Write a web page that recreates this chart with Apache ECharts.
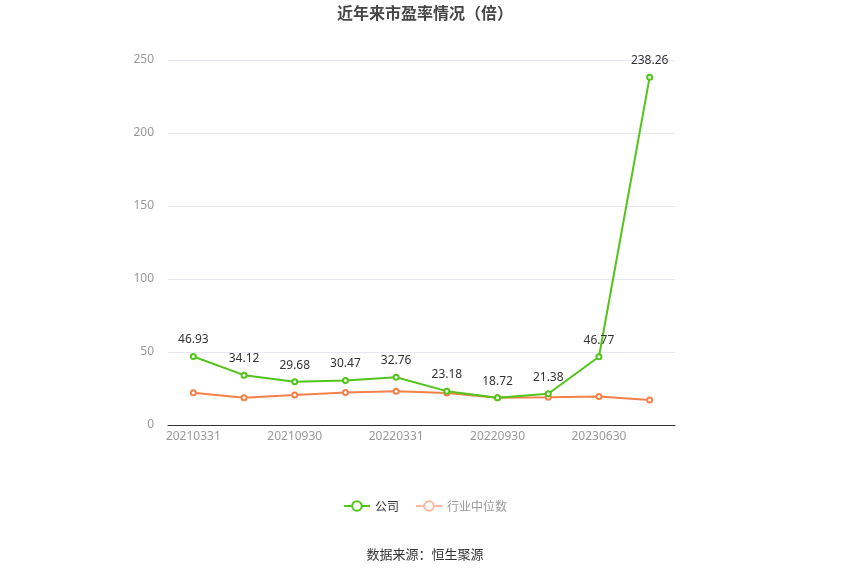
<!DOCTYPE html>
<html><head><meta charset="utf-8">
<script src="https://cdn.jsdelivr.net/npm/echarts@6/dist/echarts.min.js"></script>
<style>html,body{margin:0;padding:0;background:#fff}#c{width:850px;height:574px}</style>
</head><body><div id="c"></div>
<script>
var categories = ['20210331','20210630','20210930','20211231','20220331','20220630','20220930','20230331','20230630','20230930'];
var companyPE = [46.93, 34.12, 29.68, 30.47, 32.76, 23.18, 18.72, 21.38, 46.77, 238.26];
var industryPE = [22.1, 18.7, 20.5, 22.2, 23.2, 21.9, 18.7, 19.0, 19.6, 17.1];
var yTicks = {min: 0, max: 250, interval: 50};

var chart = echarts.init(document.getElementById('c'));
chart.setOption({
  animation: false,
  backgroundColor: '#fff',
  title: {
    text: '近年来市盈率情况（倍）',
    left: 'center', top: 0,
    textStyle: {fontSize: 16, fontWeight: 'bold', color: '#464646', fontFamily: 'Noto Sans CJK SC'}
  },
  legend: {
    bottom: 57, left: 'center',
    itemWidth: 26, itemHeight: 12, itemGap: 16,
    textStyle: {fontSize: 12, color: '#333', fontFamily: 'Noto Sans CJK SC'},
    data: [
      {name: '公司'},
      {name: '行业中位数', itemStyle: {color: '#ffb89e', borderColor: '#ffb89e'}, lineStyle: {color: '#ffb89e'}, textStyle: {color: '#999'}}
    ]
  },
  graphic: [{
    type: 'text', left: 'center', top: 548,
    style: {text: '数据来源：恒生聚源', fontSize: 13, fill: '#333', fontFamily: 'Noto Sans CJK SC'}
  }],
  grid: {left: 168, right: 175, top: 60, bottom: 149},
  xAxis: {
    type: 'category', data: categories, boundaryGap: true,
    axisLine: {lineStyle: {color: '#333'}},
    axisTick: {alignWithLabel: true, interval: 1, lineStyle: {color: '#333'}},
    axisLabel: {interval: 1, color: '#999', fontSize: 12, margin: 6, fontFamily: 'Noto Sans'}
  },
  yAxis: {
    type: 'value', min: yTicks.min, max: yTicks.max, interval: yTicks.interval,
    axisLine: {show: false}, axisTick: {show: false},
    axisLabel: {color: '#999', fontSize: 12, margin: 14, fontFamily: 'Noto Sans'},
    splitLine: {lineStyle: {color: '#e3e8f3'}}
  },
  series: [
    {
      name: '公司', type: 'line', data: companyPE,
      symbol: 'emptyCircle', symbolSize: 5,
      itemStyle: {color: '#52c41a'}, lineStyle: {color: '#52c41a', width: 2},
      label: {show: true, position: 'top', distance: 7, color: '#333', fontSize: 12, fontFamily: 'Noto Sans'},
      z: 3
    },
    {
      name: '行业中位数', type: 'line', data: industryPE,
      symbol: 'emptyCircle', symbolSize: 5,
      itemStyle: {color: '#f5804a'}, lineStyle: {color: '#f5804a', width: 2},
      z: 2
    }
  ]
});
</script></body></html>
